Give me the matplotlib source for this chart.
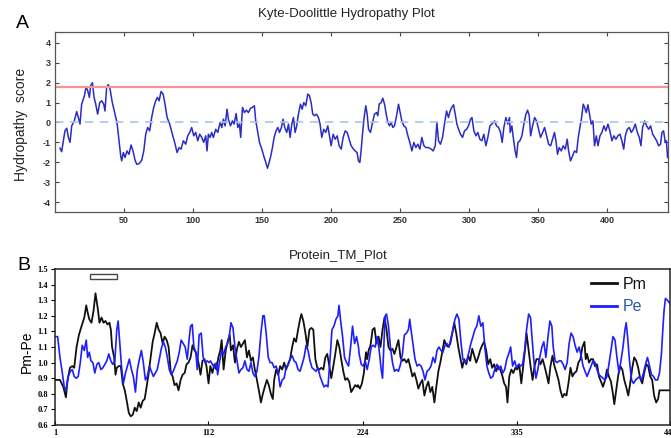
import matplotlib
matplotlib.use('Agg')
import matplotlib.pyplot as plt
from matplotlib.patches import Rectangle

plt.rcParams['font.family'] = ['Liberation Sans', 'DejaVu Sans']
plt.rcParams['axes.unicode_minus'] = False

# ---- panel A: Kyte-Doolittle hydropathy ----
hyd_pos = [3.6, 4.8, 7.2, 8.5, 9.7, 10.9, 12.1, 14.0, 15.7, 16.9, 18.1, 19.3, 21.3, 22.5, 23.7,
           24.9, 25.8, 27.1, 28.3, 29.5, 30.9, 32.4, 33.8, 35.3, 36.2, 37.4, 38.6, 39.9, 41.5,
           43.5, 44.9, 46.4, 47.6, 48.3, 49.5, 50.7, 52.2, 53.6, 55.1, 56.5, 58.0, 59.2, 60.9,
           62.8, 64.3, 65.7, 67.1, 68.6, 70.0, 71.5, 72.9, 74.2, 75.4, 76.8, 78.3, 79.7, 81.2,
           83.1, 85.0, 87.0, 88.4, 89.9, 91.3, 93.0, 94.7, 96.1, 97.6, 99.0, 100.5, 101.9, 103.4,
           104.8, 106.3, 107.7, 109.2, 110.1, 111.1,
           112.3, 113.5, 114.7, 116.4, 117.9, 119.6, 120.8, 122.0, 123.2, 124.6, 125.6, 127.1,
           128.5, 129.7, 131.2, 132.4, 133.6, 134.5, 135.8, 137.2, 138.7, 140.1, 141.6, 143.0,
           144.4, 145.4, 146.9, 148.1, 149.8, 151.2, 152.7, 153.9, 155.1, 156.3, 157.5, 158.7,
           160.1, 161.4, 162.6, 164.0, 165.2, 166.4, 167.9, 169.1, 170.3, 171.5, 172.7, 173.9,
           175.1, 176.3, 177.8, 179.0, 180.2, 181.6, 183.1, 184.3, 185.5, 186.7, 187.9, 189.4,
           190.8, 192.0, 193.2, 194.7, 196.1, 197.6, 198.8, 200.0, 201.5, 202.9, 204.4, 205.8,
           207.3, 208.7, 210.2, 211.6, 213.1, 214.5, 216.2, 217.4, 218.8, 219.8, 220.8,
           221.7, 222.7, 223.9, 225.1, 226.1, 227.1, 228.5, 230.0, 231.4, 232.9, 233.8, 234.8,
           236.2, 237.4, 238.7, 239.9, 241.1, 242.3, 243.5, 244.7, 245.9, 247.4, 248.8, 250.0,
           251.2, 252.7, 254.1, 255.6, 257.0, 258.5, 259.9, 261.4, 262.8, 264.3, 265.7, 267.2,
           268.6, 270.5, 272.5, 273.9, 275.4, 276.6, 277.8, 279.2, 280.7, 282.1, 283.6, 285.0,
           286.2, 287.4, 288.7, 289.9, 291.1, 292.3, 293.7, 295.2, 296.6, 298.1, 299.5, 301.0,
           302.0, 303.4, 304.9, 306.3, 307.7, 309.2, 310.6, 312.1, 313.5, 315.0, 316.4, 318.4,
           319.8, 321.3, 322.7, 323.9, 325.1, 326.6, 328.0, 329.2,
           329.7, 330.9, 332.1, 333.3, 334.3, 335.3, 336.7, 338.2, 339.6, 341.1, 342.3, 343.5,
           344.5, 345.9, 347.4, 348.8, 350.3, 351.7, 353.2, 354.6, 356.1, 357.5, 359.0, 360.4,
           361.8, 362.8, 364.0, 365.2, 366.7, 368.1, 369.6, 371.0, 372.0, 373.4, 374.9, 376.3,
           377.8, 379.0, 380.2, 381.4, 382.6, 383.6, 384.8, 386.0, 387.2, 388.4, 389.6, 390.8,
           392.1, 393.3, 394.7, 396.1, 397.6, 399.0, 400.5, 401.9, 403.4, 404.8, 406.3, 407.7,
           409.2, 410.6, 411.9, 413.1, 414.5, 416.0, 417.4, 418.9, 420.3, 421.8, 423.2, 424.4,
           425.6, 427.1, 428.5, 430.0, 431.4, 432.9, 434.3, 435.8, 437.2, 438.6, 439.6, 440.8,
           442.0, 442.8, 443.7]
hyd_score = [-1.29, -1.47, -0.42, -0.29, -0.75, -1.0, -0.17, 0.08, 0.55, 0.25, -0.08, 0.92, 1.34, 1.8, 1.6,
             1.26, 1.85, 2.0, 1.26, 0.92, 0.42, 1.0, 1.09, 0.92, 0.58, 1.76, 1.9, 1.68, 1.0,
             0.42, 0.0, -0.92, -1.68, -1.93, -1.51, -1.76, -1.43, -1.6, -1.13, -1.43, -1.9, -2.1, -2.07,
             -1.9, -1.43, -0.59, -0.25, -0.42, 0.25, 0.76, 1.09, 1.26, 1.09, 1.56, 1.43, 0.92, 0.25,
             -0.08, -0.59, -1.09, -1.51, -1.26, -1.34, -0.92, -1.09, -0.67, -0.5, -0.25, -0.67, -0.5, -0.92,
             -0.59, -0.75, -1.0, -0.67, -1.43, -0.59,
             -0.75, -0.5, -0.75, -0.34, -0.5, 0.0, -0.25, 0.17, -0.17, 0.67, 0.17, -0.17,
             0.08, -0.08, 0.45, -0.25, -0.08, -0.75, 0.76, 0.5, 0.62, 0.5, 0.72, 0.76,
             0.84, 0.08, -0.5, -1.0, -1.34, -1.68, -2.01, -2.3, -2.01, -1.68, -1.26, -0.75,
             -0.42, -0.25, -0.5, -0.25, 0.17, -0.25, -0.5, -0.08, -0.75, -0.08, 0.25, -0.5,
             -0.17, 0.42, 0.92, 0.67, 1.0, 0.84, 1.43, 1.34, 1.0, 0.42, 0.34, 0.42,
             0.25, -0.08, -0.75, -0.34, -0.5, -0.17, -0.67, -1.17, -0.59, -0.84, -0.67, -1.17,
             -1.34, -0.75, -0.42, -0.5, -0.84, -1.17, -1.34, -1.43, -1.51, -1.93, -2.01,
             -1.43, -0.59, 0.25, 0.84, 0.42, -0.34, -0.5, 0.0, 0.42, 0.5, 0.34, 0.92,
             1.0, 1.22, 0.92, 0.42, 0.0, -0.17, 0.0, -0.25, -0.17, 0.34, 0.92, 0.5,
             0.08, -0.17, -0.25, -0.67, -1.0, -1.43, -1.0, -1.26, -1.09, -1.34, -0.75, -1.17,
             -1.26, -1.26, -1.34, -1.43, -1.17, 0.0, -0.92, -1.09, -0.75, -0.08, 0.58, 0.25,
             0.58, 0.76, 0.89, 0.42, -0.08, -0.34, -0.59, -0.75, -0.42, -0.34, -0.17, 0.17,
             0.25, -0.42, -0.67, -0.5, -0.84, -0.92, -0.59, -1.17, -0.75, -0.17, -0.08, 0.08,
             -0.17, -0.25, -0.5, -1.0, -0.25, 0.25, -0.08, 0.25,
             -0.5, -0.17, -0.84, -1.43, -1.76, -1.0, -0.92, -0.67, -0.08, 0.42, 0.62, 0.34,
             -0.67, -0.17, 0.25, 0.08, -0.34, -0.75, -0.5, -0.25, -0.67, -1.09, -1.17, -0.84,
             -0.5, -0.92, -1.6, -1.26, -1.43, -1.17, -1.34, -0.84, -1.43, -1.93, -1.68, -1.43,
             -1.51, -0.75, -0.25, 0.25, 0.92, 0.76, 0.5, 0.89, 0.42, -0.08, 0.08, -1.17,
             -0.67, -1.17, -0.67, -0.5, -0.17, -0.42, -0.08, -0.42, -0.92, -0.67, -0.84, -0.67,
             -0.59, -0.92, -1.34, -0.67, -0.34, -0.25, -0.5, -0.34, -0.08, -0.5, -0.75, -1.17,
             -0.25, 0.08, -0.17, -0.34, -0.17, -0.59, -0.75, -0.92, -1.17, -1.09, -0.5, -0.42,
             -1.0, -0.92, -1.76]
hyd_cutoff = 1.8
hyd_xticks = [50, 100, 150, 200, 250, 300, 350, 400]
hyd_yticks = [-4, -3, -2, -1, 0, 1, 2, 3, 4]

# ---- panel B: Protein_TM_Plot ----
pm_pos = [1.0, 4.6, 7.0, 8.9, 10.1, 11.8, 13.5, 14.9, 16.6, 18.3, 20.2, 22.2, 23.6, 24.6, 25.8,
          27.4, 28.9, 30.3, 31.8, 33.2, 34.7, 36.1, 37.5, 39.0, 40.4, 41.4, 42.3, 43.8, 44.8,
          45.7, 47.2, 48.6, 50.0, 51.5, 52.9, 54.4, 55.8, 57.3, 58.7, 60.1, 61.6, 63.0, 64.5,
          65.9, 67.3, 68.8, 70.2, 71.7, 73.1, 74.6, 76.0, 77.4, 78.9, 80.3, 81.8, 83.2, 84.7,
          86.1, 87.5, 89.0, 90.4, 91.9, 93.3, 94.8, 96.2, 97.6, 99.1, 100.5, 102.0, 103.4, 104.8,
          106.3, 107.7, 109.2, 110.6, 112.1,
          113.4, 114.9, 116.3, 117.8, 119.2, 120.6, 121.6, 123.0, 124.5, 125.9, 127.4, 128.3,
          129.8, 131.2, 132.7, 134.1, 135.5, 137.0, 138.4, 139.9, 141.3, 142.8, 144.2, 145.6,
          147.1, 148.5, 150.0, 151.4, 152.8, 154.3, 155.7, 157.2, 158.6, 159.6, 161.0, 162.5,
          163.9, 165.4, 166.8, 168.2, 169.7, 171.1, 172.6, 174.0, 175.4, 176.9, 178.3, 179.3,
          180.7, 182.2, 183.6, 185.1, 186.5, 187.9, 189.4, 190.8, 192.3, 193.7, 195.2, 196.6,
          198.0, 199.5, 200.9, 202.4, 203.8, 205.3, 206.7, 208.1, 209.6, 211.0, 212.5, 213.9,
          215.3, 216.8, 218.2, 219.7,
          220.2, 221.6, 223.1, 224.5, 226.0, 226.9, 227.9, 229.3, 230.8, 232.2, 233.6, 235.1,
          236.5, 238.0, 239.4, 240.9, 242.3, 243.7, 245.2, 246.6, 248.1, 249.5, 251.0, 252.4,
          253.8, 255.3, 256.7, 258.2, 259.6, 261.1, 262.5, 263.9, 265.4, 266.8, 268.3, 269.7,
          271.1, 272.6, 274.0, 275.5, 276.9, 278.4, 279.8, 281.2, 282.7, 284.1, 285.6, 287.0,
          288.5, 289.9, 291.3, 292.8, 294.2, 295.7, 297.1, 298.6, 300.0, 301.4, 302.9, 304.3,
          305.8, 307.2, 308.6, 310.1, 311.5, 313.0, 314.4, 315.9, 317.3, 318.7, 320.2, 321.6,
          323.1, 324.5, 326.0, 327.4, 328.4,
          329.7, 331.2, 332.6, 334.1, 335.5, 336.9, 338.4, 339.8, 341.3, 342.2, 343.7, 345.1,
          346.6, 348.0, 349.4, 350.9, 352.3, 353.8, 355.2, 356.7, 358.1, 359.5, 361.0, 362.4,
          363.9, 365.3, 366.7, 368.2, 369.6, 371.1, 372.5, 374.0, 375.4, 376.8, 378.3, 379.7,
          381.2, 382.6, 384.1, 385.0, 386.0, 387.4, 388.9, 390.3, 391.7, 393.2, 394.6, 396.1,
          397.5, 399.0, 400.4, 401.8, 403.3, 404.7, 405.7, 407.1, 408.6, 410.0, 411.5, 412.9,
          414.3, 415.8, 417.2, 418.7, 420.1, 421.6, 423.0, 424.4, 425.9, 427.3, 428.8, 430.2,
          431.7, 433.1, 434.5, 436.0, 437.4, 438.4, 446.0]
pm_val = [0.86, 0.86, 0.82, 0.76, 0.86, 0.93, 0.94, 0.93, 1.05, 1.12, 1.17, 1.22, 1.29, 1.25, 1.21,
          1.19, 1.26, 1.36, 1.28, 1.19, 1.22, 1.19, 1.20, 1.18, 1.19, 1.15, 1.05, 0.99, 0.89,
          0.93, 0.94, 0.94, 0.84, 0.80, 0.74, 0.67, 0.65, 0.66, 0.70, 0.68, 0.73, 0.70, 0.74,
          0.75, 0.82, 0.90, 0.99, 1.08, 1.13, 1.19, 1.15, 1.13, 1.07, 1.11, 1.09, 1.05, 0.91,
          0.88, 0.83, 0.84, 0.80, 0.86, 0.89, 0.90, 0.95, 0.96, 0.99, 1.06, 1.03, 1.01, 0.96,
          0.89, 0.97, 0.98, 0.94, 0.84,
          0.94, 0.90, 0.95, 0.92, 0.99, 1.03, 1.09, 0.92, 1.03, 1.08, 1.12, 1.03,
          1.06, 0.96, 1.04, 1.08, 1.05, 1.07, 1.09, 0.99, 1.03, 0.97, 0.99, 0.92,
          0.86, 0.80, 0.73, 0.78, 0.82, 0.86, 0.83, 0.78, 0.75, 0.86, 0.92, 0.89,
          0.94, 0.92, 0.96, 0.92, 0.95, 0.98, 1.05, 1.10, 1.08, 1.15, 1.21, 1.24,
          1.20, 1.13, 1.05, 1.15, 1.16, 1.15, 0.98, 0.93, 0.92, 0.93, 0.92, 0.99,
          1.01, 0.94, 0.87, 0.94, 1.01, 1.09, 1.05, 0.98, 0.91, 0.86, 0.87, 0.85,
          0.79, 0.81, 0.83, 0.82,
          0.83, 0.81, 0.84, 0.90, 1.02, 0.98, 1.03, 1.06, 1.15, 1.16, 1.07, 1.11,
          1.05, 1.15, 1.22, 1.15, 1.05, 1.03, 1.04, 1.01, 1.05, 1.09, 0.99, 0.97,
          0.98, 0.96, 0.98, 0.93, 0.88, 0.90, 0.86, 0.81, 0.84, 0.86, 0.77, 0.82,
          0.85, 0.79, 0.82, 0.73, 0.82, 0.91, 0.96, 1.02, 1.09, 1.06, 1.05, 1.07,
          1.13, 1.19, 1.13, 1.05, 0.99, 0.93, 0.98, 0.95, 1.00, 0.97, 1.04, 1.00,
          0.96, 0.99, 1.03, 1.06, 1.08, 1.03, 0.95, 0.98, 0.93, 0.95, 0.91, 0.94,
          0.92, 0.89, 0.84, 0.82, 0.73,
          0.88, 0.92, 0.90, 0.93, 0.92, 0.95, 0.84, 0.94, 1.05, 1.13, 1.03, 0.94,
          0.86, 0.94, 0.98, 0.98, 0.95, 0.98, 0.94, 0.89, 0.84, 0.94, 1.00, 0.94,
          0.90, 0.86, 0.80, 0.76, 0.78, 0.77, 0.84, 0.93, 0.88, 0.90, 0.91, 0.96,
          0.98, 1.05, 1.08, 0.98, 1.01, 0.96, 0.98, 0.98, 0.94, 0.95, 0.88, 0.85,
          0.82, 0.86, 0.92, 0.88, 0.85, 0.78, 0.72, 0.80, 0.89, 0.94, 0.92, 0.86,
          0.82, 0.77, 0.84, 0.93, 0.99, 0.97, 0.93, 0.87, 0.84, 0.90, 0.95, 0.94,
          0.88, 0.86, 0.77, 0.73, 0.75, 0.80, 0.80]

pe_pos = [1.0, 2.9, 4.6, 6.3, 7.7, 8.9, 10.6, 12.1, 13.5, 14.9, 16.4, 17.8, 19.3, 20.7, 22.2,
          23.6, 24.6, 25.8, 27.0, 28.4, 29.8, 31.3, 32.7, 34.2, 35.6, 37.1, 38.5, 39.9, 41.4,
          42.8, 44.3, 45.7, 46.7, 48.1, 49.1, 50.5, 52.0, 53.4, 54.8, 56.3, 57.7, 59.2, 60.6,
          62.1, 63.5, 64.9, 66.4, 67.8, 69.3, 70.7, 72.2, 73.6, 75.0, 76.5, 77.9, 79.4, 80.8,
          82.3, 83.7, 85.1, 86.6, 88.0, 89.5, 90.9, 92.3, 93.8, 95.2, 96.7, 98.1, 99.1, 100.3,
          101.5, 102.9, 103.9, 105.3, 106.8, 108.2, 109.7, 111.1, 112.5,
          113.4, 114.9, 116.3, 117.8, 118.7, 120.2, 121.6, 123.0, 124.5, 125.9, 127.4, 128.3,
          129.8, 131.2, 132.7, 134.1, 135.5, 137.0, 138.4, 139.9, 141.3, 142.8, 144.2, 145.6,
          147.1, 148.5, 150.0, 151.4, 152.4, 153.8, 155.3, 156.7, 158.1, 159.6, 161.0, 162.5,
          163.9, 165.4, 166.8, 168.2, 169.7, 171.1, 172.6, 174.0, 175.4, 176.9, 178.3, 179.8,
          181.2, 182.7, 184.1, 185.5, 187.0, 188.4, 189.9, 191.3, 192.8, 194.2, 195.6, 197.1,
          198.5, 200.0, 201.4, 202.8, 204.3, 205.7, 206.5, 207.7, 209.1, 210.5, 212.0, 213.4,
          214.9, 216.3, 217.8, 219.2, 220.6,
          221.1, 222.6, 224.0, 225.5, 226.9, 228.4, 229.8, 231.2, 232.7, 234.1, 235.6, 237.0,
          238.0, 238.9, 239.9, 240.9, 242.3, 243.7, 245.2, 246.6, 248.1, 249.5, 251.0, 252.4,
          253.8, 255.3, 256.7, 257.7, 258.6, 260.1, 261.5, 263.0, 264.4, 265.9, 267.3, 268.7,
          270.2, 271.6, 273.1, 274.5, 276.0, 277.4, 278.8, 280.3, 281.7, 283.2, 284.6, 286.1,
          287.5, 288.9, 290.4, 291.8, 293.3, 294.7, 296.1, 297.6, 299.0, 300.5, 301.9, 303.4,
          304.8, 306.2, 307.7, 309.1, 310.6, 312.0, 313.5, 314.9, 316.3, 317.8, 319.2, 320.7,
          322.1, 323.5, 325.0, 326.4, 327.9, 328.8,
          329.7, 330.7, 332.1, 333.6, 335.0, 336.5, 337.9, 339.3, 340.8, 342.2, 343.7, 345.1,
          346.1, 347.5, 349.0, 350.4, 351.8, 353.3, 354.7, 356.2, 357.6, 359.1, 360.5, 361.5,
          362.9, 364.3, 365.8, 367.2, 368.7, 370.1, 371.6, 373.0, 374.4, 375.9, 377.3, 378.8,
          380.2, 381.7, 383.1, 384.5, 386.0, 387.4, 388.9, 390.3, 391.7, 393.2, 394.6, 396.1,
          397.5, 399.0, 400.4, 401.8, 403.3, 404.7, 406.2, 407.6, 409.1, 410.5, 412.0, 413.4,
          414.3, 415.3, 416.7, 418.2, 419.6, 421.1, 422.5, 424.0, 425.4, 426.8, 428.3, 429.7,
          431.2, 432.6, 434.1, 435.5, 437.0, 438.4, 439.8, 440.8, 441.7, 442.7, 444.1, 446.0]
pe_val = [1.11, 1.11, 0.99, 0.90, 0.82, 0.80, 0.88, 0.91, 0.92, 0.88, 0.87, 0.88, 0.96, 1.06, 1.03,
          1.09, 0.99, 1.02, 0.97, 0.96, 0.90, 0.95, 0.96, 0.92, 0.93, 0.95, 0.97, 1.01, 0.97,
          0.95, 0.97, 1.15, 1.20, 1.05, 0.94, 0.84, 0.90, 0.94, 0.98, 0.92, 0.88, 0.79, 0.92,
          0.98, 1.03, 0.96, 0.86, 0.88, 0.94, 0.91, 0.88, 0.90, 0.92, 0.98, 1.04, 1.08, 1.05,
          0.99, 0.92, 0.89, 0.91, 0.94, 0.97, 1.02, 1.09, 1.07, 1.05, 0.98, 1.10, 1.17, 1.18,
          1.05, 1.02, 0.92, 1.12, 1.13, 0.99, 0.96, 0.97, 0.96,
          0.97, 0.95, 0.93, 0.96, 0.89, 0.97, 1.03, 1.01, 1.05, 1.07, 1.13, 1.19,
          1.16, 1.05, 0.97, 0.90, 0.92, 0.93, 0.97, 0.92, 0.91, 0.96, 0.90, 0.88,
          0.91, 0.99, 1.13, 1.23, 1.23, 1.13, 0.99, 0.96, 0.96, 0.93, 0.94, 0.90,
          0.82, 0.86, 0.87, 0.93, 0.95, 0.98, 1.00, 0.97, 0.96, 0.92, 0.91, 0.95,
          0.99, 1.06, 1.03, 0.97, 0.93, 0.92, 0.91, 0.93, 0.88, 0.85, 0.82, 0.83,
          0.82, 0.98, 1.15, 1.17, 1.21, 1.23, 1.29, 1.20, 1.11, 0.99, 0.96, 0.94,
          1.05, 1.17, 1.07, 1.11, 1.05,
          1.01, 0.95, 0.94, 0.97, 0.92, 0.98, 1.05, 1.06, 1.05, 1.11, 1.03, 0.92,
          0.87, 1.05, 1.23, 1.24, 1.17, 1.05, 0.96, 0.91, 0.92, 0.91, 0.95, 1.01,
          1.12, 1.13, 1.15, 1.21, 1.15, 1.06, 0.98, 0.94, 0.95, 0.94, 0.91, 0.86,
          0.91, 0.92, 0.94, 0.99, 0.96, 1.03, 1.05, 1.03, 1.02, 1.06, 1.07, 1.05,
          1.10, 1.15, 1.21, 1.24, 1.21, 1.08, 0.98, 0.96, 0.97, 1.02, 1.07, 1.11,
          1.15, 1.17, 1.23, 1.17, 1.19, 1.05, 0.94, 0.90, 0.87, 0.88, 0.92, 0.95,
          0.92, 0.94, 0.90, 0.92, 0.98, 1.00,
          1.02, 1.05, 0.94, 0.97, 0.93, 0.95, 0.94, 0.95, 1.03, 1.15, 1.24, 1.22,
          1.11, 0.97, 0.87, 0.92, 0.99, 1.05, 1.08, 0.99, 1.10, 1.20, 1.17, 1.05,
          0.97, 0.96, 0.97, 0.97, 0.95, 0.92, 0.96, 1.07, 1.13, 1.11, 1.06, 1.02,
          1.05, 1.00, 0.94, 0.91, 0.88, 0.91, 0.94, 0.97, 0.96, 0.92, 0.89, 0.88,
          0.87, 0.86, 0.88, 0.95, 1.03, 1.11, 1.09, 0.99, 0.90, 0.97, 1.05, 1.15,
          1.19, 1.11, 0.97, 0.86, 0.84, 0.86, 0.87, 0.88, 0.86, 0.90, 0.95, 0.99,
          0.94, 0.89, 0.88, 0.86, 0.86, 0.90, 1.01, 1.15, 1.26, 1.33, 1.32, 1.30]

tm_xticks = [1, 112, 224, 335, 446]
tm_ytick_pos = [0.6, 0.69, 0.78, 0.87, 0.96, 1.05, 1.14, 1.23, 1.32, 1.41, 1.5]
tm_ytick_labels = ['0.6', '0.7', '0.8', '0.9', '1.0', '1.1', '1.1', '1.2', '1.3', '1.4', '1.5']
tm_box = (26, 1.442, 20, 0.029)   # open box over the first segment


fig = plt.figure(figsize=(6.71, 4.38), dpi=100)

# panel A
ax_a = fig.add_axes([55 / 671, 1 - 212 / 438, 613 / 671, 180 / 438])
ax_a.plot(hyd_pos, hyd_score, color='#2b2bc6', lw=1.1)
ax_a.axhline(hyd_cutoff, color='#f49494', lw=1.6)
ax_a.axhline(0, color='#a3c6ea', lw=1.2, ls=(0, (5, 4)))
ax_a.set_xlim(0, 444)
ax_a.set_ylim(-4.5, 4.55)
ax_a.set_xticks(hyd_xticks)
ax_a.set_yticks(hyd_yticks)
ax_a.tick_params(direction='in', top=True, right=True, length=3, width=0.8,
                 color='#444444', labelsize=6.5, labelcolor='#333333', pad=3)
for lab in ax_a.get_xticklabels() + ax_a.get_yticklabels():
    lab.set_fontweight('bold')
for sp in ax_a.spines.values():
    sp.set_color('#555555')
    sp.set_linewidth(0.9)

fig.text(346 / 671, 1 - 14 / 438, 'Kyte-Doolittle Hydropathy Plot', ha='center', va='center',
         fontsize=9.5, color='#222222')
fig.text(22 / 671, 1 - 24 / 438, 'A', ha='center', va='center', fontsize=14)
fig.text(21 / 671, 1 - 124 / 438, 'Hydropathy  score', rotation=90, ha='center', va='center',
         fontsize=10, color='#222222')

# panel B
ax_b = fig.add_axes([55 / 671, 1 - 425 / 438, 615 / 671, 156 / 438])
ax_b.plot(pm_pos, pm_val, color='#111111', lw=1.3, label='Pm')
ax_b.plot(pe_pos, pe_val, color='#1e1eff', lw=1.2, label='Pe')
ax_b.add_patch(Rectangle(tm_box[:2], tm_box[2], tm_box[3], facecolor='white',
                         edgecolor='#444444', lw=1.0))
ax_b.set_xlim(1, 446)
ax_b.set_ylim(0.6, 1.5)
ax_b.set_xticks(tm_xticks)
ax_b.set_yticks(tm_ytick_pos)
ax_b.set_yticklabels(tm_ytick_labels)
ax_b.tick_params(axis='y', direction='out', length=3, width=0.8, labelsize=6, pad=2)
ax_b.tick_params(axis='x', direction='in', length=3, width=0.8, labelsize=6, pad=3)
for lab in ax_b.get_xticklabels() + ax_b.get_yticklabels():
    lab.set_family(['Liberation Serif', 'DejaVu Serif'])
    lab.set_fontweight('bold')
for sp in ax_b.spines.values():
    sp.set_color('#222222')
    sp.set_linewidth(1.1)

leg = ax_b.legend(loc='upper right', bbox_to_anchor=(0.972, 0.99), frameon=False, fontsize=11.5,
                  handlelength=1.6, handletextpad=0.35, labelspacing=0.45, borderaxespad=0)
for line in leg.get_lines():
    line.set_linewidth(2.0)
leg.get_texts()[0].set_color('#111111')
leg.get_texts()[1].set_color('#2b5aa8')

fig.text(338 / 671, 1 - 255 / 438, 'Protein_TM_Plot', ha='center', va='center',
         fontsize=9.5, color='#222222')
fig.text(24 / 671, 1 - 265 / 438, 'B', ha='center', va='center', fontsize=14)
fig.text(27 / 671, 1 - 352 / 438, 'Pm-Pe', rotation=90, ha='center', va='center', fontsize=10)

fig.savefig('out.png', dpi=100)
